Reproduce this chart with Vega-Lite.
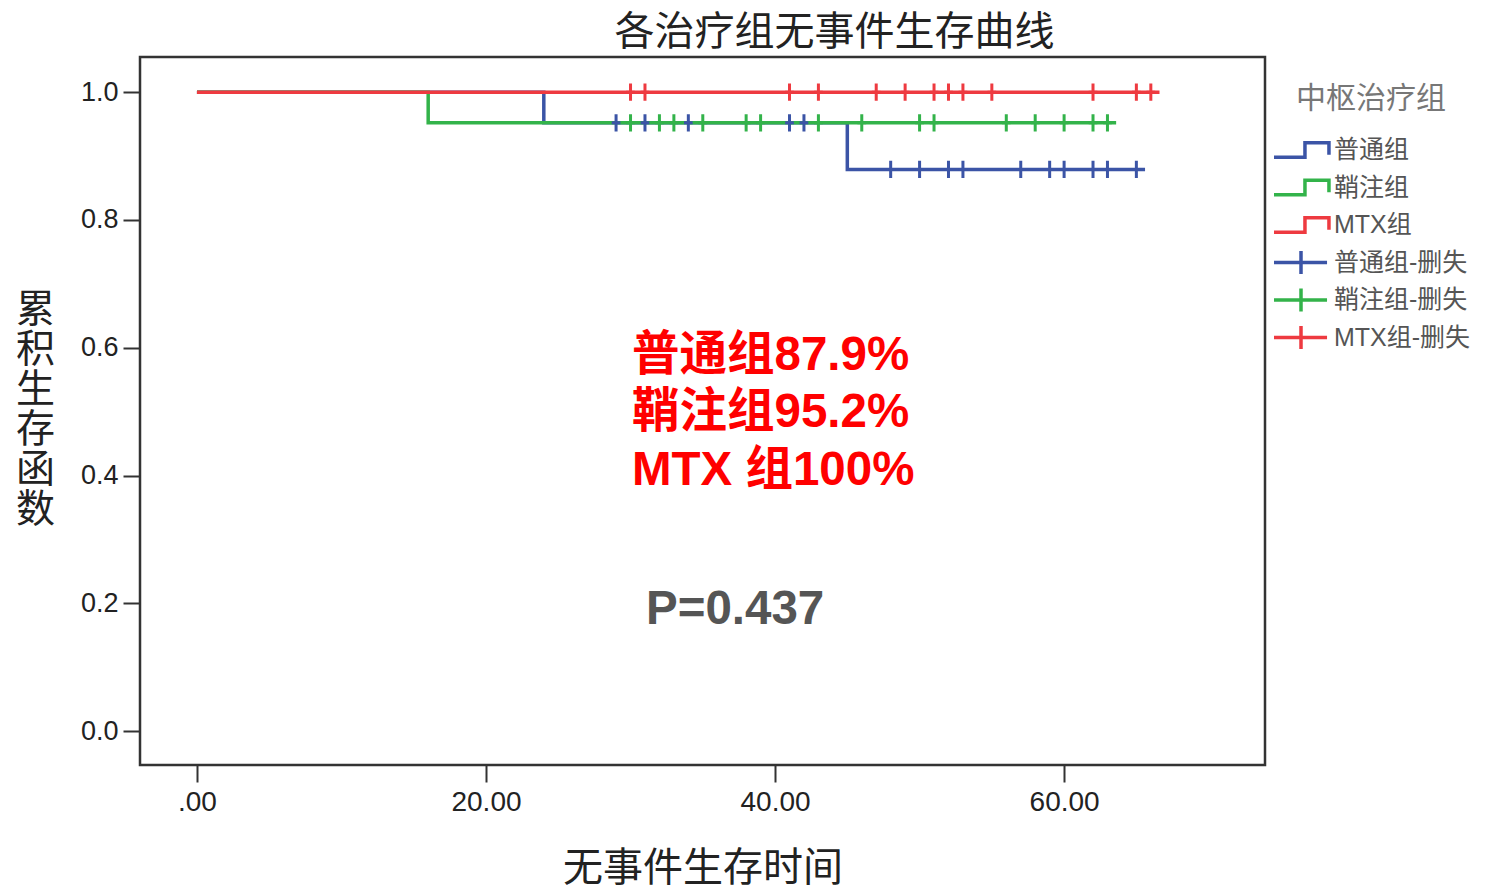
{
  "$schema": "https://vega.github.io/schema/vega-lite/v6.json",
  "autosize": {"type": "none"},
  "padding": {"left": 140, "top": 57, "right": 233, "bottom": 125},
  "width": 1125,
  "height": 708,
  "background": "white",
  "config": {
    "view": {"stroke": "#333", "strokeWidth": 2.5},
    "font": "Liberation Sans, Noto Sans CJK SC"
  },
  "title": {
    "text": "各治疗组无事件生存曲线",
    "font": "Noto Sans CJK SC",
    "fontSize": 40,
    "fontWeight": "normal",
    "color": "#222",
    "anchor": "middle",
    "dx": 132,
    "offset": 4
  },
  "datasets": {
    "lines": [
      {"group": "普通组", "t": 0, "s": 1},
      {"group": "普通组", "t": 24, "s": 0.952},
      {"group": "普通组", "t": 45, "s": 0.879},
      {"group": "普通组", "t": 65.6, "s": 0.879},
      {"group": "鞘注组", "t": 0, "s": 1},
      {"group": "鞘注组", "t": 16, "s": 0.952},
      {"group": "鞘注组", "t": 63.6, "s": 0.952},
      {"group": "MTX组", "t": 0, "s": 1},
      {"group": "MTX组", "t": 66.6, "s": 1}
    ],
    "censor": [
      {"group": "普通组-删失", "t": 29, "s": 0.952},
      {"group": "普通组-删失", "t": 31, "s": 0.952},
      {"group": "普通组-删失", "t": 34, "s": 0.952},
      {"group": "普通组-删失", "t": 41, "s": 0.952},
      {"group": "普通组-删失", "t": 42, "s": 0.952},
      {"group": "普通组-删失", "t": 48, "s": 0.879},
      {"group": "普通组-删失", "t": 50, "s": 0.879},
      {"group": "普通组-删失", "t": 52, "s": 0.879},
      {"group": "普通组-删失", "t": 53, "s": 0.879},
      {"group": "普通组-删失", "t": 57, "s": 0.879},
      {"group": "普通组-删失", "t": 59, "s": 0.879},
      {"group": "普通组-删失", "t": 60, "s": 0.879},
      {"group": "普通组-删失", "t": 62, "s": 0.879},
      {"group": "普通组-删失", "t": 63, "s": 0.879},
      {"group": "普通组-删失", "t": 65, "s": 0.879},
      {"group": "鞘注组-删失", "t": 30, "s": 0.952},
      {"group": "鞘注组-删失", "t": 32, "s": 0.952},
      {"group": "鞘注组-删失", "t": 33, "s": 0.952},
      {"group": "鞘注组-删失", "t": 35, "s": 0.952},
      {"group": "鞘注组-删失", "t": 38, "s": 0.952},
      {"group": "鞘注组-删失", "t": 39, "s": 0.952},
      {"group": "鞘注组-删失", "t": 43, "s": 0.952},
      {"group": "鞘注组-删失", "t": 46, "s": 0.952},
      {"group": "鞘注组-删失", "t": 50, "s": 0.952},
      {"group": "鞘注组-删失", "t": 51, "s": 0.952},
      {"group": "鞘注组-删失", "t": 56, "s": 0.952},
      {"group": "鞘注组-删失", "t": 58, "s": 0.952},
      {"group": "鞘注组-删失", "t": 60, "s": 0.952},
      {"group": "鞘注组-删失", "t": 62, "s": 0.952},
      {"group": "鞘注组-删失", "t": 63, "s": 0.952},
      {"group": "MTX组-删失", "t": 30, "s": 1},
      {"group": "MTX组-删失", "t": 31, "s": 1},
      {"group": "MTX组-删失", "t": 41, "s": 1},
      {"group": "MTX组-删失", "t": 43, "s": 1},
      {"group": "MTX组-删失", "t": 47, "s": 1},
      {"group": "MTX组-删失", "t": 49, "s": 1},
      {"group": "MTX组-删失", "t": 51, "s": 1},
      {"group": "MTX组-删失", "t": 52, "s": 1},
      {"group": "MTX组-删失", "t": 53, "s": 1},
      {"group": "MTX组-删失", "t": 55, "s": 1},
      {"group": "MTX组-删失", "t": 62, "s": 1},
      {"group": "MTX组-删失", "t": 65, "s": 1},
      {"group": "MTX组-删失", "t": 66, "s": 1}
    ]
  },
  "encoding": {
    "x": {
      "field": "t",
      "type": "quantitative",
      "scale": {"domain": [-3.94, 73.9], "nice": false, "zero": false},
      "axis": {
        "title": "无事件生存时间",
        "values": [0, 20, 40, 60],
        "labelExpr": "datum.value == 0 ? '.00' : format(datum.value, '.2f')",
        "grid": false,
        "domain": false,
        "tickSize": 17,
        "tickWidth": 2,
        "tickColor": "#333",
        "labelFont": "Liberation Sans",
        "labelFontSize": 28,
        "labelColor": "#222",
        "labelPadding": 6,
        "titleFont": "Noto Sans CJK SC",
        "titleFontSize": 40,
        "titleFontWeight": "normal",
        "titleColor": "#222",
        "titleY": 103,
        "titleBaseline": "middle"
      }
    },
    "y": {
      "field": "s",
      "type": "quantitative",
      "scale": {"domain": [-0.053, 1.055], "nice": false, "zero": false},
      "axis": {
        "title": ["累", "积", "生", "存", "函", "数"],
        "values": [0, 0.2, 0.4, 0.6, 0.8, 1.0],
        "format": ".1f",
        "grid": false,
        "domain": false,
        "tickSize": 17,
        "tickWidth": 2,
        "tickColor": "#333",
        "labelFont": "Liberation Sans",
        "labelFontSize": 27,
        "labelColor": "#222",
        "labelPadding": 5,
        "titleFont": "Noto Sans CJK SC",
        "titleFontSize": 39,
        "titleFontWeight": "normal",
        "titleColor": "#222",
        "titleAngle": 0,
        "titleAlign": "center",
        "titleBaseline": "top",
        "titleLineHeight": 40,
        "titleX": -105,
        "titleY": 233
      }
    }
  },
  "layer": [
    {
      "data": {"name": "lines"},
      "mark": {"type": "line", "interpolate": "step-after", "strokeWidth": 3.5},
      "encoding": {
        "color": {
          "field": "group",
          "type": "nominal",
          "scale": {
            "domain": ["普通组", "鞘注组", "MTX组", "普通组-删失", "鞘注组-删失", "MTX组-删失"],
            "range": ["#3b54a6", "#33b34a", "#ee3a40", "#3b54a6", "#33b34a", "#ee3a40"]
          },
          "legend": {
            "orient": "none",
            "legendX": 1132,
            "legendY": 27,
            "title": "中枢治疗组",
            "titleFont": "Noto Sans CJK SC",
            "titleFontSize": 30,
            "titleFontWeight": "normal",
            "titleColor": "#777",
            "titleAnchor": "middle",
            "titlePadding": 22,
            "labelFont": "Liberation Sans, Noto Sans CJK SC",
            "labelFontSize": 25,
            "labelColor": "#555",
            "labelLimit": 300,
            "symbolSize": 576,
            "symbolStrokeWidth": 3.5,
            "rowPadding": -0.5,
            "labelOffset": 34,
            "encode": {
              "symbols": {
                "update": {
                  "shape": {"signal": "indexof(datum.value, '删失') >= 0 ? 'M-1,0H3.42M1.25,-0.95V0.95' : 'M-1,0.6H1.58V-0.6H3.58V0.4M1.25,-0.95M1.25,0.95'"},
                  "fill": {"value": "transparent"},
                  "strokeWidth": {"value": 3.5}
                }
              }
            }
          }
        }
      }
    },
    {
      "data": {"name": "censor"},
      "mark": {"type": "point", "shape": "M0,-1V1M-0.5,0H0.5", "filled": false, "size": 300, "strokeWidth": 3, "opacity": 1},
      "encoding": {
        "color": {"field": "group", "type": "nominal"}
      }
    },
    {
      "data": {"values": [
        {"label": "普通组87.9%", "t": 30.1, "s": 0.587},
        {"label": "鞘注组95.2%", "t": 30.1, "s": 0.498},
        {"label": "MTX 组100%", "t": 30.1, "s": 0.407}
      ]},
      "mark": {"type": "text", "align": "left", "baseline": "middle", "font": "Liberation Sans, Noto Sans CJK SC", "fontSize": 47.5, "fontWeight": "bold", "color": "#ff0000"},
      "encoding": {"text": {"field": "label"}}
    },
    {
      "data": {"values": [{"label": "P=0.437", "t": 31.07, "s": 0.189}]},
      "mark": {"type": "text", "align": "left", "baseline": "middle", "font": "Liberation Sans", "fontSize": 47.5, "fontWeight": "bold", "color": "#555555"},
      "encoding": {"text": {"field": "label"}}
    }
  ]
}
